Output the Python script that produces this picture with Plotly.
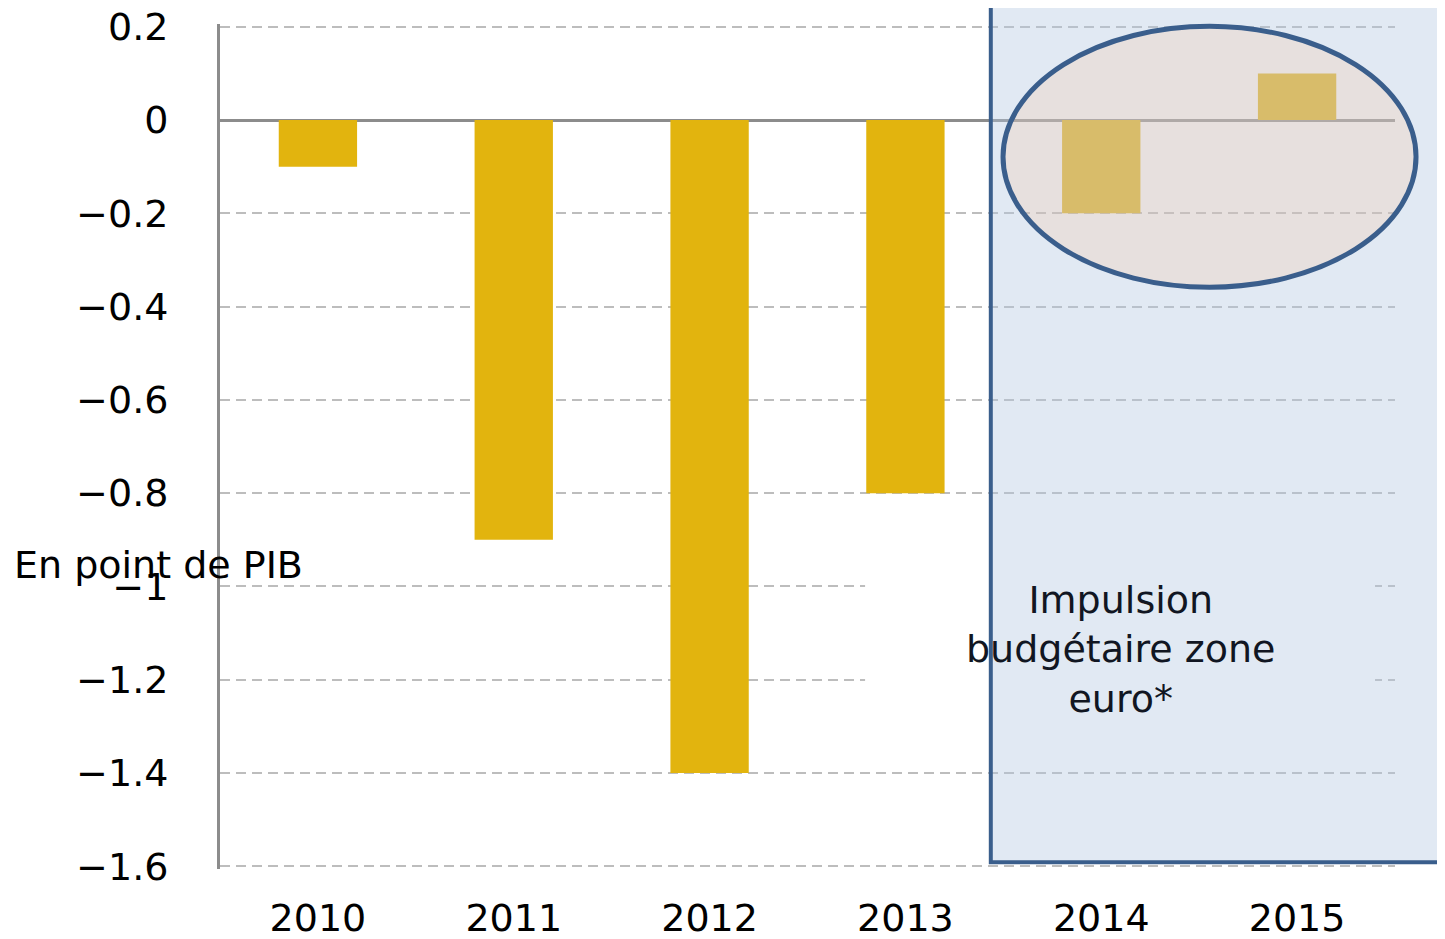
import plotly.graph_objects as go

# Impulsion budgétaire, en point de PIB
years = ['2010', '2011', '2012', '2013', '2014', '2015']
impulse = [-0.1, -0.9, -1.4, -0.8, -0.2, 0.1]

y_tickvals = [0.2, 0, -0.2, -0.4, -0.6, -0.8, -1, -1.2, -1.4, -1.6]
y_ticktext = ['0.2', '0', '\u22120.2', '\u22120.4', '\u22120.6', '\u22120.8',
              '\u22121', '\u22121.2', '\u22121.4', '\u22121.6']

FONT = 'DejaVu Sans'
FS = 38
BAR_COLOR = '#E2B40E'
FRAME_BLUE = '#3A5E8C'

fig = go.Figure(go.Bar(
    x=years,
    y=impulse,
    marker_color=BAR_COLOR,
    marker_line_width=0,
))

# page body adds an 8px offset, so the figure is a bit smaller than the window
fig.update_layout(
    width=1437,
    height=931,
    margin=dict(l=212, r=50, t=16, b=70),
    paper_bgcolor='white',
    plot_bgcolor='white',
    bargap=0.6,
    showlegend=False,
    font=dict(family=FONT, size=FS, color='black'),
)

fig.update_xaxes(
    type='category',
    range=[-0.5, 5.5],
    automargin=False,
    showgrid=False,
    showline=False,
    zeroline=False,
    ticks='outside',
    ticklen=15,
    tickcolor='rgba(0,0,0,0)',
    ticklabeloverflow='allow',
    tickfont=dict(family=FONT, size=FS, color='black'),
)

# small padding on the range so the end gridlines are kept
fig.update_yaxes(
    range=[-1.606, 0.206],
    automargin=False,
    tickvals=y_tickvals,
    ticktext=y_ticktext,
    showgrid=True,
    gridcolor='#BDBDBD',
    gridwidth=2,
    griddash='10px,6px',
    zeroline=True,
    zerolinecolor='#8C8C8C',
    zerolinewidth=2.5,
    showline=True,
    linecolor='#8C8C8C',
    linewidth=3,
    ticks='outside',
    ticklen=41,
    tickcolor='rgba(0,0,0,0)',
    ticklabeloverflow='allow',
    tickfont=dict(family=FONT, size=FS, color='black'),
)

# white patch hiding the gridlines behind the label (drawn before the frame)
fig.add_shape(type='rect', xref='paper', yref='paper',
              x0=0.549, x1=0.983, y0=0.165, y1=0.36,
              fillcolor='white', line_width=0, layer='above')

# projection frame
fig.add_shape(type='rect', xref='paper', yref='paper',
              x0=0.656, x1=1.0405, y0=0.008, y1=1.035,
              fillcolor='rgba(180,200,225,0.4)',
              line=dict(color=FRAME_BLUE, width=4), layer='above')

# highlight ellipse
fig.add_shape(type='circle', xref='paper', yref='paper',
              x0=0.6664, x1=1.0179, y0=0.6885, y1=0.9972,
              fillcolor='rgba(255,188,140,0.2)',
              line=dict(color=FRAME_BLUE, width=5), layer='above')

fig.add_annotation(
    text='Impulsion<br>budgétaire zone<br>euro*',
    xref='paper', yref='paper', x=0.766, y=0.2595,
    xanchor='center', yanchor='middle',
    showarrow=False, align='center',
    font=dict(family=FONT, size=FS, color='#111622'),
)

fig.add_annotation(
    text='En point de PIB',
    xref='paper', yref='paper', x=-0.177, y=0.36,
    xanchor='left', yanchor='middle', showarrow=False,
    font=dict(family=FONT, size=FS, color='black'),
)

fig.write_html("out.html")
